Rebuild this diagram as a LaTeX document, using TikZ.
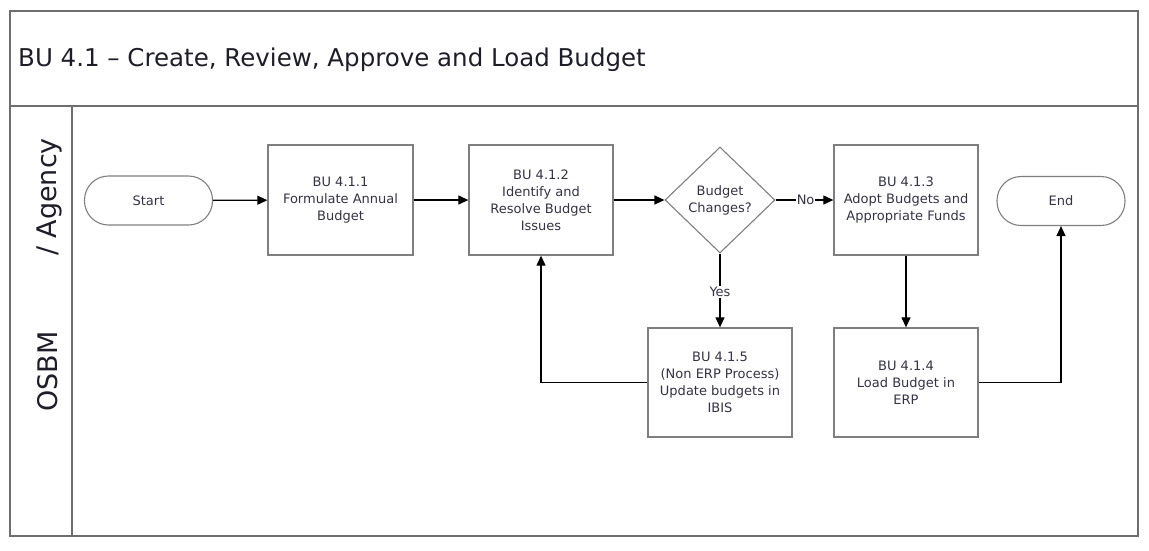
\documentclass[tikz,border=0pt]{standalone}
\usepackage{fontspec}
\setmainfont{DejaVu Sans}
\usetikzlibrary{shapes.geometric,arrows.meta}
\definecolor{frame}{HTML}{6E6E6E}
\definecolor{boxline}{HTML}{7F7F7F}
\definecolor{txt}{HTML}{333344}
\definecolor{titletxt}{HTML}{1E1E28}
\begin{document}
\begin{tikzpicture}[x=1pt,y=-1pt,
  boxfont/.style={font=\fontsize{13}{17}\selectfont},
  proc/.style={draw=boxline, line width=1.3pt, minimum width=144pt, minimum height=110pt,
    align=center, text=txt, boxfont, inner sep=0pt},
  term/.style={draw=boxline, line width=1.1pt, rounded corners=24pt, minimum width=128pt,
    minimum height=49pt, text=txt, boxfont, inner sep=0pt},
  dec/.style={draw=boxline, line width=1.1pt, diamond, minimum width=110pt, minimum height=106pt,
    align=center, text=txt, boxfont, inner sep=0pt},
  flow/.style={draw=black, line width=1.2pt, -{Triangle[length=10pt,width=9pt]}},
  lbl/.style={fill=white, inner sep=1pt, text=txt, boxfont},
  lane/.style={rotate=90, anchor=base, text=titletxt, font=\fontsize{27}{33}\selectfont, inner sep=0pt}]
\useasboundingbox (0,0) rectangle (1149,550);
% frame
\draw[frame, line width=2pt] (10,11) rectangle (1138,536);
\draw[frame, line width=2pt] (10,106) -- (1138,106);
\draw[frame, line width=1.5pt] (72,106) -- (72,536);
% title and lane label
\node[anchor=base west, inner sep=0pt, text=titletxt, font=\fontsize{24.5}{29}\selectfont] (title) at (18,66) {BU 4.1 – Create, Review, Approve and Load Budget};
\node[lane] (osbm) at (57,371.5) {OSBM};
\node[lane] (agency) at (56,197) {/ Agency};
% nodes
\node[term] (start) at (148.5,200.5) {Start};
\node[proc, minimum width=145pt] (b1) at (340.5,200) {BU 4.1.1\\Formulate Annual\\Budget};
\node[proc] (b2) at (541,200) {BU 4.1.2\\Identify and\\Resolve Budget\\Issues};
\node[dec] (dia) at (720,200) {Budget\\Changes?};
\node[proc] (b3) at (906,200) {BU 4.1.3\\Adopt Budgets and\\Appropriate Funds};
\node[term] (end) at (1061,201) {End};
\node[proc, minimum height=109pt] (b5) at (720,382.5) {BU 4.1.5\\(Non ERP Process)\\Update budgets in\\IBIS};
\node[proc, minimum height=109pt] (b4) at (906,382.5) {BU 4.1.4\\Load Budget in\\ERP};
% connectors
\draw[flow] (start) -- (b1);
\draw[flow] (b1) -- (b2);
\draw[flow] (b2) -- (dia);
\draw[flow] (dia) -- node[lbl, pos=0.52] (nolbl) {No} (b3);
\draw[flow] (dia.south) -- node[lbl, pos=0.52] (yeslbl) {Yes} (b5.north);
\draw[flow] (b3.south) -- (b4.north);
\draw[flow] (b5.west) -| (b2.south);
\draw[flow] (b4.east) -| (end.south);
\end{tikzpicture}
\end{document}
